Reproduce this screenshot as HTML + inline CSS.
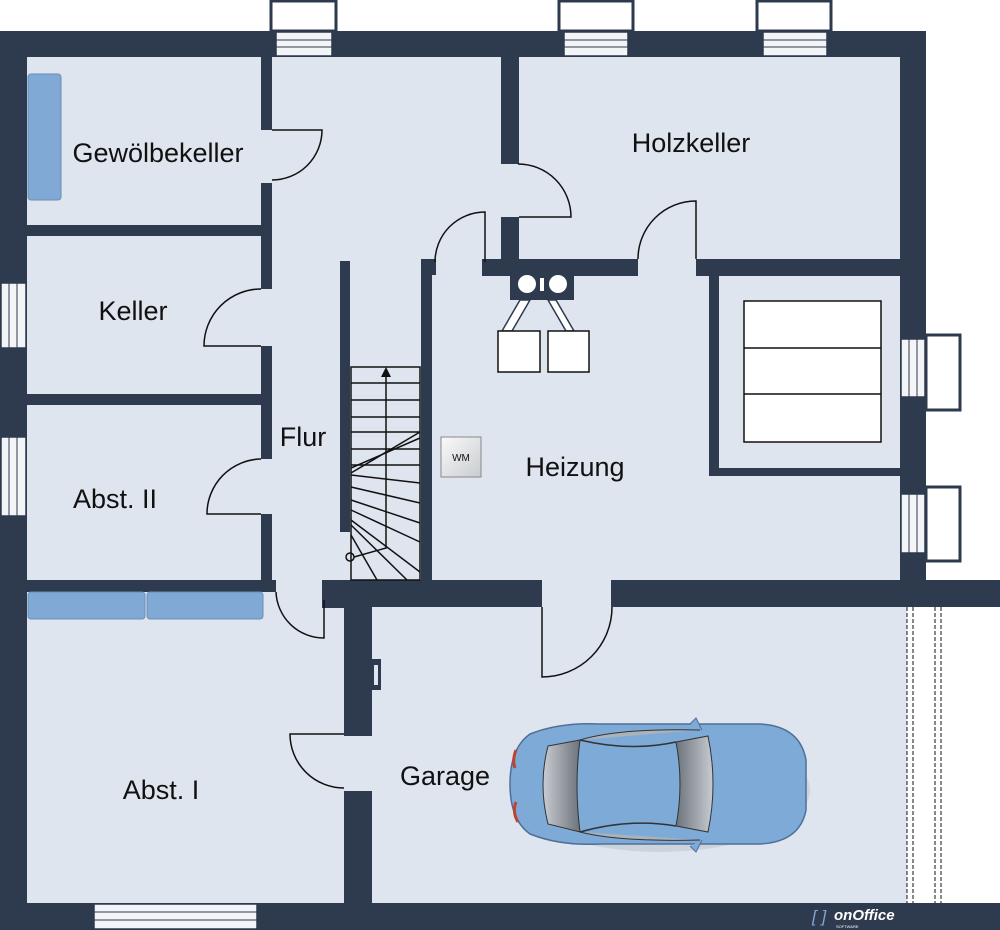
<!DOCTYPE html>
<html><head><meta charset="utf-8"><style>
html,body{margin:0;padding:0;background:#fff;}
svg{display:block;}
text{font-family:"Liberation Sans",sans-serif;fill:#111;}
</style></head><body>
<svg width="1000" height="930" viewBox="0 0 1000 930" xmlns="http://www.w3.org/2000/svg">
<defs>
<linearGradient id="wm" x1="0" y1="0" x2="1" y2="1"><stop offset="0" stop-color="#fafafa"/><stop offset="1" stop-color="#c9ccd0"/></linearGradient>
<linearGradient id="glass" x1="0" y1="0" x2="1" y2="0"><stop offset="0" stop-color="#c8ccd2"/><stop offset="1" stop-color="#6d737b"/></linearGradient>
<linearGradient id="glass2" x1="1" y1="0" x2="0" y2="0"><stop offset="0" stop-color="#c8ccd2"/><stop offset="1" stop-color="#6d737b"/></linearGradient>
</defs>
<rect x="27" y="55" width="874" height="526" fill="#dfe5ee"/>
<rect x="27" y="581" width="880" height="323" fill="#dfe5ee"/>
<g fill="#2e3a4d">
<rect x="0" y="31" width="926" height="26"/>
<rect x="0" y="31" width="27" height="899"/>
<rect x="900" y="31" width="26" height="576"/>
<rect x="0" y="903" width="1000" height="27"/>
<rect x="611" y="580" width="389" height="27"/>
<rect x="322" y="580" width="220" height="27"/>
<rect x="27" y="580" width="249" height="12"/>
<rect x="261" y="57" width="11" height="73"/>
<rect x="261" y="183" width="11" height="106"/>
<rect x="261" y="346" width="11" height="113"/>
<rect x="261" y="514" width="11" height="70"/>
<rect x="27" y="225" width="245" height="11"/>
<rect x="27" y="394" width="245" height="11"/>
<rect x="340" y="261" width="10" height="271"/>
<rect x="421" y="259" width="11" height="322"/>
<rect x="421" y="259" width="15" height="16"/>
<rect x="501" y="57" width="18" height="107"/>
<rect x="501" y="217" width="18" height="45"/>
<rect x="482" y="259" width="156" height="17"/>
<rect x="696" y="259" width="205" height="17"/>
<rect x="709" y="276" width="10" height="200"/>
<rect x="709" y="468" width="192" height="8"/>
<rect x="510" y="276" width="64" height="24"/>
<rect x="344" y="600" width="28" height="136"/>
<rect x="344" y="791" width="28" height="113"/>
<rect x="322" y="580" width="22" height="28"/>
<rect x="372" y="659" width="9" height="31"/>
</g>
<rect x="374" y="665" width="4" height="20" fill="#dfe5ee"/>
<circle cx="527" cy="284" r="9" fill="#fff"/><circle cx="558" cy="284" r="9" fill="#fff"/>
<rect x="540" y="278" width="4" height="13" fill="#fff"/>
<g stroke="#2e3a4d" stroke-width="1.5" fill="#fff">
<polygon points="520,300 530,300 512,331 502,331"/>
<polygon points="548,300 556,300 574,331 566,331"/>
</g>
<g stroke="#111" stroke-width="1.5" fill="#fff">
<rect x="498" y="331" width="42" height="41"/>
<rect x="548" y="331" width="41" height="41"/>
<rect x="744" y="301" width="137" height="141"/>
<line x1="744" y1="348" x2="881" y2="348"/><line x1="744" y1="394" x2="881" y2="394"/>
</g>
<rect x="441" y="437" width="40" height="40" fill="url(#wm)" stroke="#888" stroke-width="1"/>
<text x="461" y="461" font-size="10" text-anchor="middle">WM</text>
<g fill="#80a9d6" stroke="#6a8fb8" stroke-width="1">
<rect x="28" y="74" width="33" height="126" rx="3"/>
<rect x="28" y="592" width="117" height="27" rx="3"/>
<rect x="147" y="592" width="116" height="27" rx="3"/>
</g>
<g fill="none" stroke="#111" stroke-width="1.5">
<path d="M272 130 H322 A50 50 0 0 1 272 180"/>
<path d="M261 346 H204 A57 57 0 0 1 261 289"/>
<path d="M261 514 H207 A55 55 0 0 1 261 459"/>
<path d="M518 164 A53 53 0 0 1 571 217 H519"/>
<path d="M485 262 V212 A50 50 0 0 0 435 262"/>
<path d="M696 259 V201 A58 58 0 0 0 638 259"/>
<path d="M276 592 A48 48 0 0 0 324 638 V600"/>
<path d="M612 607 A70 70 0 0 1 542 677 V607"/>
<path d="M344 734 H290 A54 54 0 0 0 344 788"/>
</g>
<g stroke="#111" stroke-width="1.5" fill="none">
<rect x="351" y="367" width="69" height="213"/>
<line x1="351" y1="383" x2="420" y2="383"/><line x1="351" y1="400" x2="420" y2="400"/>
<line x1="351" y1="417" x2="420" y2="417"/><line x1="351" y1="432" x2="420" y2="432"/>
<line x1="351" y1="449" x2="420" y2="449"/><line x1="351" y1="465" x2="420" y2="465"/>
<line x1="351" y1="473" x2="420" y2="432"/><line x1="351" y1="468" x2="420" y2="438"/>
<line x1="351" y1="475" x2="420" y2="483"/><line x1="351" y1="487" x2="420" y2="503"/>
<line x1="351" y1="500" x2="420" y2="523"/><line x1="351" y1="510" x2="420" y2="542"/>
<line x1="351" y1="520" x2="420" y2="572"/><line x1="351" y1="525" x2="407" y2="580"/>
<line x1="351" y1="535" x2="377" y2="580"/>
<polyline points="354,557 386,548 386,375"/>
<circle cx="350" cy="557" r="4"/>
</g>
<polygon points="386,367 381,377 391,377" fill="#111"/>
<g fill="#fff" stroke="#2e3a4d" stroke-width="3">
<rect x="271" y="1" width="65" height="30"/><rect x="559" y="1" width="74" height="30"/><rect x="757" y="1" width="74" height="30"/>
<rect x="926" y="335" width="34" height="75"/><rect x="926" y="487" width="34" height="74"/>
</g>
<g fill="#f2f4f7" stroke="#2e3a4d" stroke-width="1.5">
<rect x="276" y="32" width="56" height="24"/><rect x="564" y="32" width="64" height="24"/><rect x="763" y="32" width="64" height="24"/>
<rect x="1" y="283" width="25" height="65"/><rect x="1" y="437" width="25" height="79"/>
<rect x="901" y="339" width="24" height="58"/><rect x="901" y="494" width="24" height="59"/>
<rect x="94" y="904" width="163" height="25"/>
</g>
<g stroke="#2e3a4d" stroke-width="1">
<line x1="276" y1="40" x2="332" y2="40"/><line x1="276" y1="47" x2="332" y2="47"/>
<line x1="564" y1="40" x2="628" y2="40"/><line x1="564" y1="47" x2="628" y2="47"/>
<line x1="763" y1="40" x2="827" y2="40"/><line x1="763" y1="47" x2="827" y2="47"/>
<line x1="9" y1="283" x2="9" y2="348"/><line x1="17" y1="283" x2="17" y2="348"/>
<line x1="9" y1="437" x2="9" y2="516"/><line x1="17" y1="437" x2="17" y2="516"/>
<line x1="909" y1="339" x2="909" y2="397"/><line x1="917" y1="339" x2="917" y2="397"/>
<line x1="909" y1="494" x2="909" y2="553"/><line x1="917" y1="494" x2="917" y2="553"/>
<line x1="94" y1="912" x2="257" y2="912"/><line x1="94" y1="920" x2="257" y2="920"/>
</g>
<rect x="941" y="607" width="59" height="296" fill="#fff"/>
<g stroke="#111" stroke-width="1" stroke-dasharray="4,2" fill="none">
<line x1="907" y1="607" x2="907" y2="903"/><line x1="913" y1="607" x2="913" y2="903"/>
<line x1="935" y1="607" x2="935" y2="903"/><line x1="941" y1="607" x2="941" y2="903"/>
</g>
<g>
<ellipse cx="660" cy="790" rx="150" ry="62" fill="#000" opacity="0.08"/>
<path d="M530 734 Q560 722 600 724 L760 724 Q800 726 806 760 L806 810 Q800 842 760 844 L600 844 Q560 846 530 834 Q510 820 510 784 Q510 748 530 734 Z" fill="#7eaad8" stroke="#4f6f99" stroke-width="1.5"/>
<path d="M548 746 L580 740 Q574 784 580 832 L548 824 Q538 784 548 746 Z" fill="url(#glass)" stroke="#333" stroke-width="1"/>
<path d="M676 742 L708 736 Q718 784 708 832 L676 826 Q684 784 676 742 Z" fill="url(#glass2)" stroke="#333" stroke-width="1"/>
<path d="M580 740 Q630 752 676 742" fill="none" stroke="#333" stroke-width="1.5"/>
<path d="M580 832 Q630 818 676 826" fill="none" stroke="#333" stroke-width="1.5"/>
<path d="M580 740 Q620 728 700 730" fill="#aab2bc" stroke="#333" stroke-width="1"/>
<path d="M580 832 Q620 842 700 840" fill="#aab2bc" stroke="#333" stroke-width="1"/>
<path d="M516 750 Q512 760 515 768" stroke="#b43" stroke-width="3" fill="none"/>
<path d="M516 802 Q512 812 518 822" stroke="#b43" stroke-width="3" fill="none"/>
<path d="M690 724 L696 718 L702 730" fill="#7eaad8" stroke="#4f6f99"/>
<path d="M690 846 L696 852 L702 840" fill="#7eaad8" stroke="#4f6f99"/>
</g>
<text x="158" y="162" font-size="27" text-anchor="middle">Gewölbekeller</text>
<text x="133" y="320" font-size="27" text-anchor="middle">Keller</text>
<text x="115" y="508" font-size="27" text-anchor="middle">Abst. II</text>
<text x="303" y="446" font-size="27" text-anchor="middle">Flur</text>
<text x="575" y="476" font-size="27" text-anchor="middle">Heizung</text>
<text x="691" y="152" font-size="27" text-anchor="middle">Holzkeller</text>
<text x="161" y="799" font-size="27" text-anchor="middle">Abst. I</text>
<text x="445" y="785" font-size="27" text-anchor="middle">Garage</text>
<text x="812" y="922" font-size="17" style="fill:#7fa6d4" font-style="italic">[ ]</text>
<text x="834" y="920" font-size="15" font-weight="bold" font-style="italic" style="fill:#fff">onOffice</text>
<text x="836" y="928" font-size="4" style="fill:#fff">SOFTWARE</text>
</svg>
</body></html>
